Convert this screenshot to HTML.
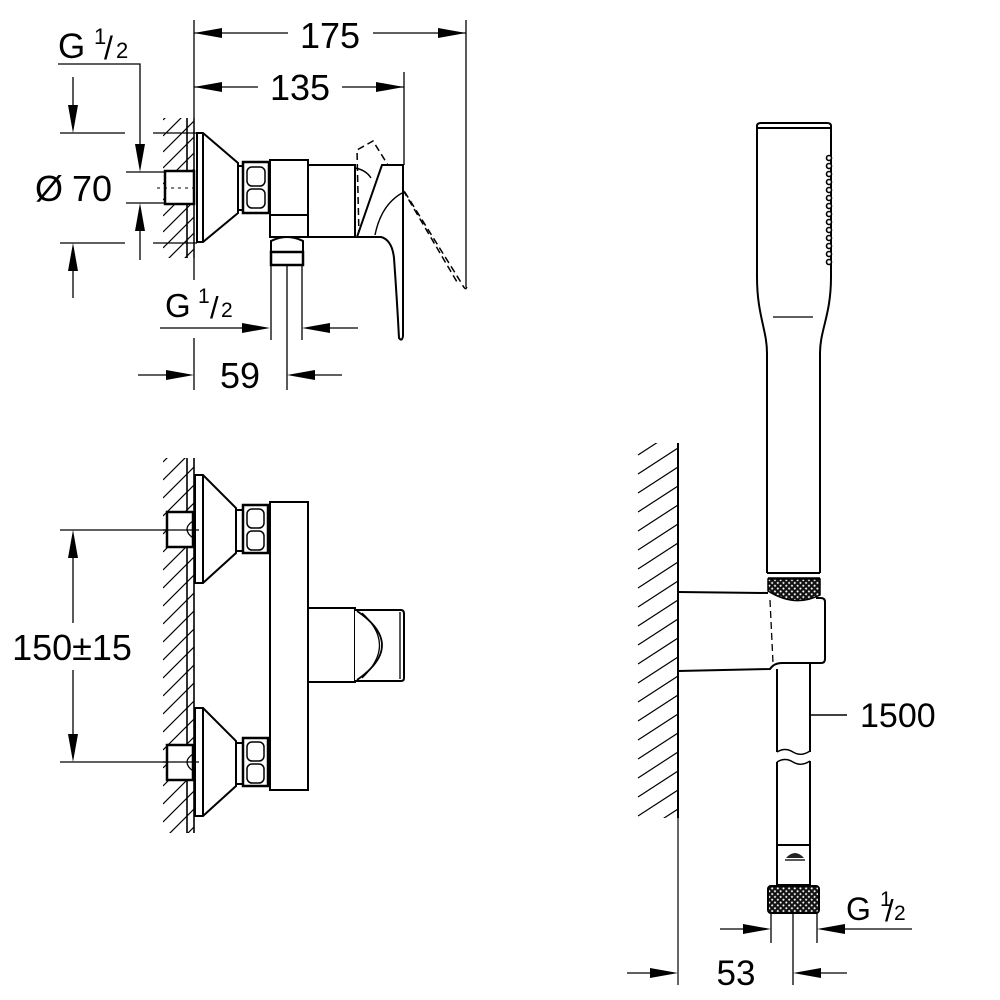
<!DOCTYPE html>
<html><head><meta charset="utf-8"><style>
html,body{margin:0;padding:0;background:#fff;}
svg{display:block;}
text{font-family:"Liberation Sans",sans-serif;fill:#000;}
</style></head><body>
<svg width="1000" height="1000" viewBox="0 0 1000 1000" xmlns="http://www.w3.org/2000/svg">
<defs>
<pattern id="kn" width="4" height="4" patternUnits="userSpaceOnUse" patternTransform="rotate(45)"><rect width="4" height="4" fill="#111"/><rect x="1.3" y="1.3" width="1.8" height="1.8" fill="#fff"/></pattern>
<clipPath id="c1"><rect x="163" y="118" width="31" height="140"/></clipPath>
<clipPath id="c2"><rect x="163" y="458" width="31" height="375"/></clipPath>
<clipPath id="c3"><rect x="636" y="443" width="42" height="375"/></clipPath>
</defs>
<rect width="1000" height="1000" fill="#fff"/>

<!-- hatches -->
<path clip-path="url(#c1)" stroke="#000" stroke-width="1.2" fill="none" d="M163,120L194,89 M163,136L194,105 M163,152L194,121 M163,168L194,137 M163,184L194,153 M163,200L194,169 M163,216L194,185 M163,232L194,201 M163,248L194,217 M163,264L194,233 M163,280L194,249"/>
<path clip-path="url(#c2)" stroke="#000" stroke-width="1.2" fill="none" d="M163,462L194,431 M163,480L194,449 M163,498L194,467 M163,516L194,485 M163,534L194,503 M163,552L194,521 M163,570L194,539 M163,588L194,557 M163,606L194,575 M163,624L194,593 M163,642L194,611 M163,660L194,629 M163,678L194,647 M163,696L194,665 M163,714L194,683 M163,732L194,701 M163,750L194,719 M163,768L194,737 M163,786L194,755 M163,804L194,773 M163,822L194,791 M163,840L194,809 M163,858L194,827"/>
<path clip-path="url(#c3)" stroke="#000" stroke-width="1.2" fill="none" d="M638,455L678,429 M638,474L678,448 M638,493L678,467 M638,512L678,486 M638,531L678,505 M638,550L678,524 M638,569L678,543 M638,588L678,562 M638,607L678,581 M638,626L678,600 M638,645L678,619 M638,664L678,638 M638,683L678,657 M638,702L678,676 M638,721L678,695 M638,740L678,714 M638,759L678,733 M638,778L678,752 M638,797L678,771 M638,816L678,790 M638,835L678,809"/>

<!-- ============ TOP VIEW ============ -->
<g stroke="#000" stroke-width="1.3" fill="none">
  <line x1="194" y1="33" x2="288" y2="33"/>
  <line x1="373" y1="33" x2="466" y2="33"/>
  <line x1="194" y1="87" x2="258" y2="87"/>
  <line x1="342" y1="87" x2="404" y2="87"/>
  <line x1="194" y1="20" x2="194" y2="280"/>
  <line x1="466" y1="20" x2="466" y2="287"/>
  <line x1="404" y1="72" x2="404" y2="165"/>
  <polyline points="58,64 140,64 140,144"/>
  <line x1="140" y1="231" x2="140" y2="260"/>
  <line x1="126" y1="172" x2="165" y2="172"/>
  <line x1="126" y1="203" x2="165" y2="203"/>
  <line x1="73" y1="77" x2="73" y2="105"/>
  <line x1="73" y1="271" x2="73" y2="298"/>
  <line x1="60" y1="133" x2="125" y2="133"/>
  <line x1="60" y1="243" x2="125" y2="243"/>
  <line x1="153" y1="133" x2="197" y2="133"/>
  <line x1="153" y1="243" x2="197" y2="243"/>
  <line x1="160" y1="328" x2="242" y2="328"/>
  <line x1="330" y1="328" x2="358" y2="328"/>
  <line x1="138" y1="375" x2="166" y2="375"/>
  <line x1="315" y1="375" x2="342" y2="375"/>
  <line x1="194" y1="338" x2="194" y2="390"/>
  <line x1="287" y1="228" x2="287" y2="390"/>
  <line x1="271" y1="265" x2="271" y2="340"/>
  <line x1="302" y1="265" x2="302" y2="340"/>
</g>
<g fill="#000">
  <polygon points="194,33 222,28 222,38"/>
  <polygon points="466,33 438,28 438,38"/>
  <polygon points="194,87 222,82 222,92"/>
  <polygon points="404,87 376,82 376,92"/>
  <polygon points="140,172 135,144 145,144"/>
  <polygon points="140,203 135,231 145,231"/>
  <polygon points="73,133 68,105 78,105"/>
  <polygon points="73,243 68,271 78,271"/>
  <polygon points="270,328 242,323 242,333"/>
  <polygon points="302,328 330,323 330,333"/>
  <polygon points="194,375 166,370 166,380"/>
  <polygon points="287,375 315,370 315,380"/>
</g>
<text x="330" y="48" font-size="36" text-anchor="middle">175</text>
<text x="300" y="100" font-size="36" text-anchor="middle">135</text>
<text x="58" y="58" font-size="35">G</text>
<text x="94" y="44" font-size="22">1</text>
<text x="104" y="59" font-size="32">/</text>
<text x="116" y="58" font-size="22">2</text>
<text x="35" y="201" font-size="36">Ø</text>
<text x="72" y="201" font-size="36">70</text>
<text x="165" y="317" font-size="33">G</text>
<text x="198" y="303" font-size="21">1</text>
<text x="210" y="318" font-size="31">/</text>
<text x="221" y="317" font-size="21">2</text>
<text x="240" y="388" font-size="36" text-anchor="middle">59</text>

<line x1="187" y1="118" x2="187" y2="258" stroke="#000" stroke-width="1.6"/>
<line x1="194" y1="118" x2="194" y2="258" stroke="#000" stroke-width="1.3"/>
<rect x="165" y="171" width="29" height="33" fill="#fff" stroke="#000" stroke-width="2.5"/>
<line x1="157" y1="188" x2="205" y2="188" stroke="#000" stroke-width="1" stroke-dasharray="3,4"/>
<g stroke="#000" stroke-width="2" fill="#fff">
  <polygon points="197,133 203,133 238,163 238,213 203,242 197,242"/>
  <line x1="203" y1="133" x2="203" y2="242"/>
  <rect x="238" y="166" width="5" height="44"/>
  <rect x="243" y="162" width="26" height="51" stroke-width="2.5"/>
  <rect x="247" y="167" width="18" height="19" rx="5" stroke-width="1.5"/>
  <rect x="247" y="189" width="18" height="19" rx="5" stroke-width="1.5"/>
  <rect x="270" y="160" width="38" height="77"/>
  <line x1="270" y1="215" x2="308" y2="215"/>
  <path d="M271,252 L271,241 Q287,233 303,241 L303,252" />
  <rect x="271" y="252" width="32" height="13" stroke-width="2.5"/>
  <rect x="308" y="165" width="47" height="72"/>
</g>
<g stroke="#000" stroke-width="1.5" fill="none" stroke-dasharray="7,4">
  <path d="M359,237 L357,150 L373,141 L462,284 Q466,292 467,286"/>
  <path d="M403,190 L457,282"/>
  <path d="M362,228 Q370,215 386,212"/>
</g>
<g stroke="#000" stroke-width="2" fill="#fff">
  <path d="M382,165 L403,165 L403,336 Q402,342 399,338 Q397,300 394,258 Q392,240 381,237 L357,237 Z"/>
</g>
<g stroke="#000" stroke-width="1.4" fill="none">
  <path d="M355,168 Q366,170 371,178"/>
  <path d="M375,235 Q381,205 402,193"/>
</g>

<!-- ============ MIDDLE VIEW ============ -->
<g stroke="#000" stroke-width="1.3" fill="none">
  <line x1="60" y1="530" x2="199" y2="530"/>
  <line x1="60" y1="762" x2="199" y2="762"/>
  <line x1="73" y1="558" x2="73" y2="623"/>
  <line x1="73" y1="670" x2="73" y2="734"/>
</g>
<g fill="#000">
  <polygon points="73,530 68,558 78,558"/>
  <polygon points="73,762 68,734 78,734"/>
</g>
<text x="72" y="660" font-size="36" text-anchor="middle">150±15</text>

<line x1="187" y1="458" x2="187" y2="833" stroke="#000" stroke-width="1.6"/>
<line x1="194" y1="458" x2="194" y2="833" stroke="#000" stroke-width="1.6"/>

<g stroke="#000" stroke-width="2" fill="#fff">
  <rect x="167" y="512" width="26" height="35" stroke-width="2.5"/>
  <rect x="167" y="745" width="26" height="35" stroke-width="2.5"/>
  <polygon points="195,475 203,475 236,508 236,553 203,583 195,583"/>
  <line x1="203" y1="475" x2="203" y2="583"/>
  <rect x="236" y="510" width="7" height="41"/>
  <rect x="243" y="505" width="25" height="48" stroke-width="2.5"/>
  <rect x="247" y="509" width="17" height="19" rx="5" stroke-width="1.5"/>
  <rect x="247" y="531" width="17" height="19" rx="5" stroke-width="1.5"/>
  <polygon points="195,708 203,708 236,741 236,786 203,816 195,816"/>
  <line x1="203" y1="708" x2="203" y2="816"/>
  <rect x="236" y="743" width="7" height="41"/>
  <rect x="243" y="738" width="25" height="48" stroke-width="2.5"/>
  <rect x="247" y="742" width="17" height="19" rx="5" stroke-width="1.5"/>
  <rect x="247" y="764" width="17" height="19" rx="5" stroke-width="1.5"/>
  <rect x="270" y="502" width="38" height="288"/>
  <rect x="308" y="608" width="47" height="74"/>
  <path d="M355,610 L401,610 Q404,610 404,614 L404,678 Q404,681 401,681 L355,681"/>
</g>
<g stroke="#000" stroke-width="1.3" fill="none">
  <line x1="163" y1="530" x2="199" y2="530"/>
  <line x1="163" y1="762" x2="199" y2="762"/>
  <path d="M193,521 Q181,529 193,538"/>
  <path d="M193,754 Q181,762 193,771"/>
  <line x1="400" y1="612" x2="400" y2="679"/>
  <path d="M357,611 Q407,645 357,680" stroke-width="1.8"/>
  <path d="M362,613 Q397,645 362,678"/>
</g>

<!-- ============ RIGHT VIEW ============ -->
<line x1="678" y1="443" x2="678" y2="818" stroke="#000" stroke-width="2"/>
<line x1="678" y1="818" x2="678" y2="985" stroke="#000" stroke-width="1.2"/>

<g stroke="#000" stroke-width="2" fill="none">
  <path d="M757,130 L757,126 Q757,123 761,123 L827,123 Q831,123 831,126 L831,130"/>
  <line x1="757" y1="128" x2="831" y2="128"/>
  <path d="M757,128 L757,277 C757,315 767,330 767,353 L767,573"/>
  <path d="M831,128 L831,277 C831,315 820,330 820,353 L820,573"/>
  <line x1="767" y1="573" x2="820" y2="573"/>
  <line x1="768" y1="578" x2="820" y2="578" stroke-width="1.5"/>
</g>
<g stroke="#000" stroke-width="1.6" fill="#fff">
  <circle cx="829" cy="158" r="2.5"/><circle cx="829" cy="166" r="2.5"/>
  <circle cx="829" cy="174" r="2.5"/><circle cx="829" cy="182" r="2.5"/>
  <circle cx="829" cy="190" r="2.5"/><circle cx="829" cy="198" r="2.5"/>
  <circle cx="829" cy="206" r="2.5"/><circle cx="829" cy="214" r="2.5"/>
  <circle cx="829" cy="222" r="2.5"/><circle cx="829" cy="230" r="2.5"/>
  <circle cx="829" cy="238" r="2.5"/><circle cx="829" cy="246" r="2.5"/>
  <circle cx="829" cy="254" r="2.5"/><circle cx="829" cy="262" r="2.5"/>
</g>
<line x1="773" y1="317" x2="813" y2="317" stroke="#000" stroke-width="1.3"/>
<path d="M768,579 L820,579 L820,595 Q795,608 768,591 Z" fill="url(#kn)" stroke="#000" stroke-width="1.5"/>
<g stroke="#000" stroke-width="2" fill="none">
  <line x1="678" y1="592" x2="768" y2="593"/>
  <path d="M816,598 L821,598 Q825,598 825,602 L825,659 Q825,663 821,663 L782,663 Q774,663 770,669 L678,671"/>
  <line x1="777" y1="669" x2="777" y2="752"/>
  <line x1="810" y1="663" x2="810" y2="752"/>
  <line x1="777" y1="762" x2="777" y2="845"/>
  <line x1="810" y1="761" x2="810" y2="845"/>
  <rect x="777" y="845" width="33" height="40"/>
</g>
<path d="M770,600 L773,663" stroke="#000" stroke-width="1.3" stroke-dasharray="7,4" fill="none"/>
<g stroke="#000" stroke-width="1.4" fill="none">
  <path d="M777,752 Q785,747 793,752 Q801,757 810,751"/>
  <path d="M777,762 Q785,757 793,762 Q801,767 810,761"/>
  <line x1="810" y1="715" x2="847" y2="715"/>
</g>
<path d="M786,858 Q795,848 804,858 Z" fill="#222"/>
<line x1="785" y1="860" x2="805" y2="860" stroke="#222" stroke-width="1.5"/>
<text x="860" y="727" font-size="34">1500</text>
<rect x="768" y="886" width="51" height="27" rx="3" fill="url(#kn)" stroke="#000" stroke-width="2"/>
<g stroke="#000" stroke-width="1.3" fill="none">
  <line x1="771" y1="913" x2="771" y2="943"/>
  <line x1="817" y1="913" x2="817" y2="943"/>
  <line x1="793" y1="913" x2="793" y2="985"/>
  <line x1="720" y1="929" x2="743" y2="929"/>
  <line x1="845" y1="929" x2="912" y2="929"/>
  <line x1="627" y1="973" x2="650" y2="973"/>
  <line x1="821" y1="973" x2="847" y2="973"/>
</g>
<g fill="#000">
  <polygon points="771,929 743,924 743,934"/>
  <polygon points="817,929 845,924 845,934"/>
  <polygon points="678,973 650,968 650,978"/>
  <polygon points="793,973 821,968 821,978"/>
</g>
<text x="846" y="920" font-size="32">G</text>
<text x="880" y="906" font-size="21">1</text>
<text x="885" y="921" font-size="31">/</text>
<text x="894" y="920" font-size="21">2</text>
<text x="736" y="985" font-size="35" text-anchor="middle">53</text>
</svg>
</body></html>
